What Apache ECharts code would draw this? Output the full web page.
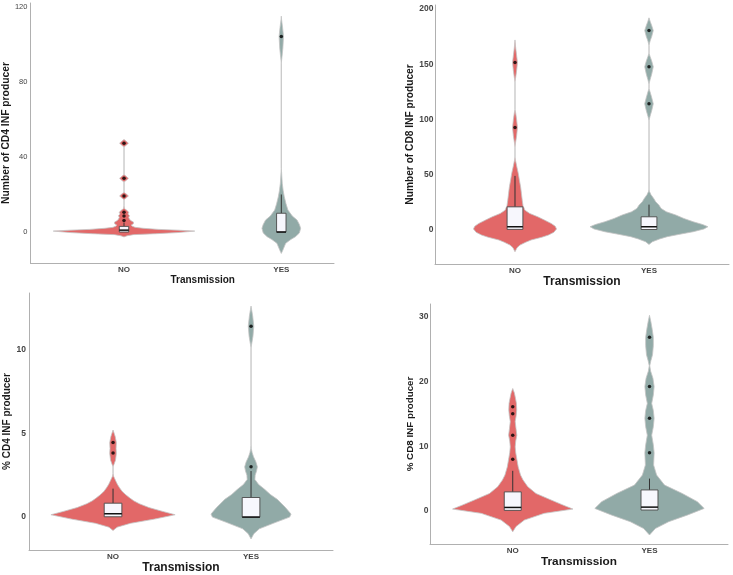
<!DOCTYPE html>
<html>
<head>
<meta charset="utf-8">
<script src="https://cdn.jsdelivr.net/npm/echarts@6/dist/echarts.min.js"></script>
<style>html,body{margin:0;padding:0;background:#fff;}#chart{width:733px;height:575px;}</style>
</head>
<body>
<div id="chart"></div>
<script>
// ---------------- DATA ----------------
const categories = ['NO', 'YES'];
const xTitle = 'Transmission';
const yTitles = ['Number of CD4 INF producer', 'Number of CD8 INF producer', '% CD4 INF producer', '% CD8 INF producer'];

// Violin outlines: [value, half-width (category units)]
const cd4NumViolinNo = [[-2.6,0],[-2,0.02],[-1.4,0.06],[-0.9,0.2],[-0.3,0.34],[0.5,0.45],[1.0,0.34],[1.4,0.22],[2.0,0.12],[2.5,0.07],[3.2,0.05],[3.8,0.047],[4.4,0.06],[5.3,0.06],[6.0,0.045],[6.8,0.035],[7.8,0.03],[8.7,0.035],[9.6,0.025],[10.5,0.03],[11.4,0.02],[12.5,0.003],[14,0],[17.2,0],[18.2,0.015],[19.2,0.028],[20.2,0.015],[21.2,0],[26.6,0],[27.6,0.015],[28.6,0.028],[29.6,0.015],[30.6,0],[45.3,0],[46.3,0.015],[47.3,0.028],[48.3,0.015],[49.3,0]];
const cd4NumViolinYes = [[-11.4,0],[-9.6,0.01],[-8,0.018],[-6,0.028],[-4,0.06],[-2.5,0.09],[-0.5,0.115],[2,0.123],[4,0.115],[6.4,0.1],[8.5,0.07],[11.7,0.042],[15,0.03],[18.8,0.019],[22,0.012],[26,0.006],[31.5,0.002],[34,0],[90,0],[93,0.004],[98,0.01],[104.2,0.014],[109,0.008],[113,0.002],[115,0]];
const cd8NumViolinNo = [[-19.6,0],[-16,0.015],[-13.6,0.037],[-11,0.08],[-9,0.12],[-6.5,0.2],[-4.5,0.25],[-2,0.29],[1,0.31],[3.5,0.3],[6,0.27],[9,0.22],[12,0.17],[15,0.11],[18,0.074],[22,0.06],[27,0.054],[33,0.048],[39,0.042],[45,0.033],[51,0.025],[57,0.014],[63,0.004],[66,0],[75,0],[79,0.004],[85,0.012],[92.8,0.0185],[100,0.012],[106,0.005],[109,0],[134,0],[138,0.005],[144,0.012],[151.6,0.0185],[158,0.012],[165,0.005],[172,0]];
const cd8NumViolinYes = [[-13,0],[-10.6,0.025],[-8,0.08],[-6,0.136],[-4,0.22],[-1.5,0.33],[1,0.41],[3,0.44],[5,0.4],[7.5,0.33],[10.5,0.26],[13.6,0.2],[16.5,0.13],[19.6,0.09],[22.5,0.075],[25.6,0.05],[28.6,0.035],[32,0.015],[35,0.003],[37,0],[99,0],[103,0.008],[108,0.02],[114.2,0.032],[120,0.02],[125,0.008],[128,0],[132,0],[136,0.008],[141,0.02],[147.7,0.032],[153,0.02],[157,0.008],[160,0],[167,0],[171,0.008],[175,0.02],[180.5,0.032],[185,0.02],[189,0.008],[192,0]];
const cd4PctViolinNo = [[-0.8,0],[-0.6,0.03],[-0.37,0.127],[-0.12,0.3],[0.14,0.45],[0.34,0.36],[0.57,0.26],[0.8,0.19],[0.97,0.15],[1.15,0.12],[1.36,0.088],[1.55,0.065],[1.75,0.047],[1.95,0.032],[2.15,0.02],[2.44,0.004],[2.6,0],[3.0,0],[3.13,0.006],[3.4,0.018],[3.8,0.024],[4.1,0.022],[4.45,0.024],[4.8,0.016],[5.0,0.008],[5.2,0]];
const cd4PctViolinYes = [[-1.3,0],[-1.0,0.02],[-0.7,0.06],[-0.31,0.18],[0,0.28],[0.18,0.29],[0.57,0.25],[1.06,0.19],[1.35,0.14],[1.65,0.1],[1.95,0.055],[2.25,0.028],[2.5,0.03],[2.75,0.04],[3.0,0.046],[3.3,0.035],[3.6,0.018],[3.85,0.008],[4.1,0.002],[4.3,0],[10.1,0],[10.3,0.004],[10.8,0.014],[11.4,0.02],[12.0,0.012],[12.4,0.004],[12.6,0]];
const cd8PctViolinNo = [[-3.2,0],[-2.4,0.024],[-1.4,0.085],[-0.36,0.23],[0.3,0.44],[0.9,0.37],[1.7,0.28],[2.7,0.17],[3.75,0.11],[4.8,0.075],[5.55,0.057],[6.8,0.04],[8.0,0.03],[9.0,0.022],[9.9,0.018],[10.8,0.022],[11.7,0.03],[12.7,0.024],[13.8,0.018],[14.7,0.025],[15.6,0.029],[16.6,0.027],[17.4,0.02],[18.2,0.012],[18.9,0]];
const cd8PctViolinYes = [[-3.7,0],[-2.7,0.043],[-1.65,0.14],[-0.6,0.28],[0.4,0.4],[1.44,0.35],[2.7,0.24],[4.0,0.11],[5.55,0.052],[7.1,0.03],[8.0,0.032],[9.0,0.034],[10.2,0.028],[11.7,0.016],[13.0,0.028],[14.3,0.034],[15.5,0.028],[16.6,0.016],[17.9,0.028],[19.2,0.034],[20.5,0.025],[21.6,0.008],[22.4,0.002],[23.2,0.01],[24.1,0.022],[25.5,0.028],[26.8,0.028],[28,0.02],[29.2,0.01],[30.2,0]];

// Box stats: [group, lowerWhisker, q1, median, q3, upperWhisker]
const cd4NumBox = [[1,0,0,1,3,5],[2,0,0,0,10,20]];
const cd8NumBox = [[1,0.6,0.6,3,21,49],[2,0.5,0.5,3,12,23]];
const cd4PctBox = [[1,0.02,0.02,0.2,0.83,1.7],[2,0,0,0,1.17,2.75]];
const cd8PctBox = [[1,0.1,0.1,0.55,2.95,6.2],[2,0.15,0.15,0.6,3.25,5]];

// Outliers: [group, value]
const cd4NumOutliers = [[1,47.3],[1,28.6],[1,19.2],[1,10.5],[1,8.5],[1,6.2],[2,104.2]];
const cd8NumOutliers = [[1,151.6],[1,92.8],[2,180.5],[2,147.7],[2,114.2]];
const cd4PctOutliers = [[1,4.45],[1,3.82],[2,11.4],[2,3.0]];
const cd8PctOutliers = [[1,16.1],[1,15.0],[1,11.7],[1,8.0],[2,26.8],[2,19.2],[2,14.3],[2,9.0]];

// Tick labels
const cd4NumTicks = [0,40,80,120];
const cd8NumTicks = [0,50,100,150,200];
const cd4PctTicks = [0,5,10];
const cd8PctTicks = [0,10,20,30];

// ---------------- LAYOUT / STYLE ----------------
const FONT = "'Liberation Sans', Arial, sans-serif";
const fills = ['#E26868', '#91AAA7'];
const panels = [
  {violins:[cd4NumViolinNo, cd4NumViolinYes], box:cd4NumBox, out:cd4NumOutliers, ticks:cd4NumTicks, title:yTitles[0],
   grid:{left:29, top:3, width:305, height:260}, x:[0.405,2.335], y:[-16.5,122], bw:0.06,
   tickFont:{fontSize:7.5, fontWeight:'normal', margin:3}, yNameGap:13, yNameSize:10.3, xNameSize:10, xNameGap:8, xNamePad:[0,0,0,41]},
  {violins:[cd8NumViolinNo, cd8NumViolinYes], box:cd8NumBox, out:cd8NumOutliers, ticks:cd8NumTicks, title:yTitles[1],
   grid:{left:435, top:5, width:294, height:259}, x:[0.403,2.597], y:[-30.7,203.6], bw:0.118,
   tickFont:{fontSize:8.5, fontWeight:'bold', margin:1.5}, yNameGap:17, yNameSize:10.2, xNameSize:12, xNameGap:5, xNamePad:0},
  {violins:[cd4PctViolinNo, cd4PctViolinYes], box:cd4PctBox, out:cd4PctOutliers, ticks:cd4PctTicks, title:yTitles[2],
   grid:{left:29, top:293, width:304, height:260}, x:[0.391,2.594], y:[-1.97,13.38], bw:0.128,
   tickFont:{fontSize:8.5, fontWeight:'bold', margin:3}, yNameGap:12, yNameSize:10, xNameSize:12, xNameGap:7, xNamePad:0},
  {violins:[cd8PctViolinNo, cd8PctViolinYes], box:cd8PctBox, out:cd8PctOutliers, ticks:cd8PctTicks, title:yTitles[3],
   grid:{left:430, top:304, width:298, height:240}, x:[0.395,2.574], y:[-5.09,31.94], bw:0.124,
   tickFont:{fontSize:8.5, fontWeight:'bold', margin:1.5}, yNameGap:11, yNameSize:9.8, xNameSize:11.8, xNameGap:4, xNamePad:0}
];

function violinRender(profiles) {
  return function (params, api) {
    const i = params.dataIndex;
    const cx = api.value(0);
    const prof = profiles[i];
    const right = prof.map(p => api.coord([cx + p[1], p[0]]));
    const left = prof.slice().reverse().map(p => api.coord([cx - p[1], p[0]]));
    return {type:'polygon', shape:{points:right.concat(left)},
      style:{fill:fills[i], stroke:'#c4c4c4', lineWidth:0.8}};
  };
}
function boxRender(bw) {
  return function (params, api) {
    const x = api.value(0);
    const pLo = api.coord([x, api.value(1)]);
    const pQ1 = api.coord([x, api.value(2)]);
    const pMed = api.coord([x, api.value(3)]);
    const pQ3 = api.coord([x, api.value(4)]);
    const pHi = api.coord([x, api.value(5)]);
    const half = api.size([bw, 0])[0] / 2;
    return {type:'group', children:[
      {type:'line', shape:{x1:pHi[0], y1:pHi[1], x2:pQ3[0], y2:pQ3[1]}, style:{stroke:'#333', lineWidth:1}},
      {type:'line', shape:{x1:pLo[0], y1:pLo[1], x2:pQ1[0], y2:pQ1[1]}, style:{stroke:'#333', lineWidth:1}},
      {type:'rect', shape:{x:pQ3[0]-half, y:pQ3[1], width:2*half, height:Math.max(1, pQ1[1]-pQ3[1])},
        style:{fill:'#F7F7FD', stroke:'#4a4a4a', lineWidth:0.9}},
      {type:'line', shape:{x1:pMed[0]-half, y1:pMed[1], x2:pMed[0]+half, y2:pMed[1]}, style:{stroke:'#111', lineWidth:1.5}}
    ]};
  };
}

const option = {animation:false, backgroundColor:'#fff', grid:[], xAxis:[], yAxis:[], series:[]};
panels.forEach((p, k) => {
  option.grid.push(Object.assign({containLabel:false}, p.grid));
  option.xAxis.push({type:'value', gridIndex:k, min:p.x[0], max:p.x[1],
    name:xTitle, nameLocation:'middle', nameGap:p.xNameGap,
    nameTextStyle:{fontFamily:FONT, fontWeight:'bold', fontSize:p.xNameSize, color:'#1a1a1a', padding:p.xNamePad},
    axisLine:{show:true, onZero:false, lineStyle:{color:'#b0b0b0', width:1}},
    axisTick:{show:false}, splitLine:{show:false},
    axisLabel:{customValues:[1,2], formatter:v => categories[Math.round(v)-1] || '', margin:3,
      fontFamily:FONT, fontWeight:'bold', fontSize:8, color:'#444'}});
  option.yAxis.push({type:'value', gridIndex:k, min:p.y[0], max:p.y[1],
    name:p.title, nameLocation:'middle', nameGap:p.yNameGap, nameRotate:90,
    nameTextStyle:{fontFamily:FONT, fontWeight:'bold', fontSize:p.yNameSize, color:'#1a1a1a'},
    axisLine:{show:true, onZero:false, lineStyle:{color:'#b0b0b0', width:1}},
    axisTick:{show:false}, splitLine:{show:false},
    axisLabel:Object.assign({customValues:p.ticks, fontFamily:FONT, color:'#444'}, p.tickFont)});
  option.series.push({type:'custom', xAxisIndex:k, yAxisIndex:k, renderItem:violinRender(p.violins),
    data:[[1],[2]], clip:false, silent:true, z:1});
  option.series.push({type:'custom', xAxisIndex:k, yAxisIndex:k, renderItem:boxRender(p.bw),
    data:p.box, encode:{x:0, y:[1,2,3,4,5]}, clip:false, silent:true, z:2});
  option.series.push({type:'scatter', xAxisIndex:k, yAxisIndex:k, data:p.out, symbol:'circle', symbolSize:3.5,
    itemStyle:{color:'#000'}, silent:true, z:3});
});

const chart = echarts.init(document.getElementById('chart'), null, {renderer:'canvas'});
chart.setOption(option);
</script>
</body>
</html>
